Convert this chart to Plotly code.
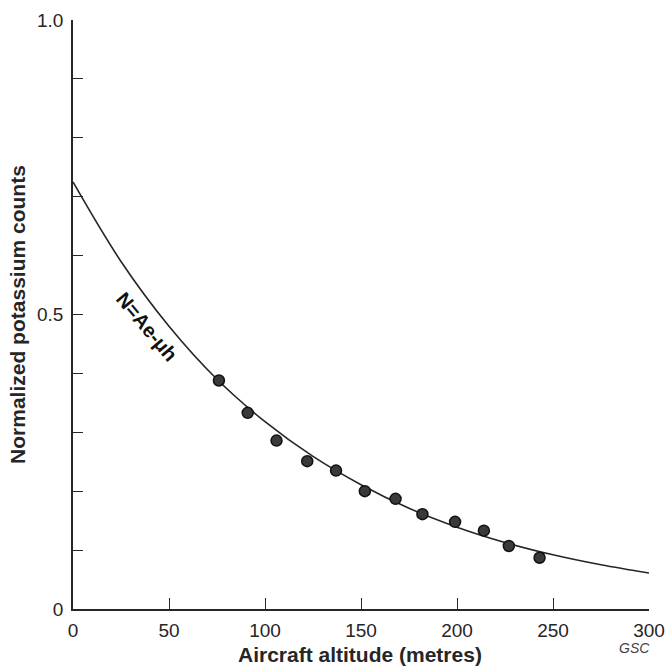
import plotly.graph_objects as go

# Measured data points (altitude in metres, normalized potassium counts)
altitude = [76, 91, 106, 122, 137, 152, 168, 182, 199, 214, 227, 243]
counts = [0.388, 0.333, 0.286, 0.251, 0.235, 0.200, 0.187, 0.161, 0.148, 0.133, 0.107, 0.087]

# Fitted curve N = A e^(-mu h)
curve_x = [0, 25, 50, 75, 100, 125, 150, 175, 200, 225, 250, 275, 300]
curve_y = [0.725, 0.590, 0.480, 0.390, 0.318, 0.259, 0.211, 0.171, 0.139, 0.113, 0.092, 0.075, 0.061]

x_ticks = [0, 50, 100, 150, 200, 250, 300]
y_ticks = [0, 0.5, 1.0]
y_tick_text = ["0", "0.5", "1.0"]

FONT = "Liberation Sans, Arial, Helvetica, sans-serif"
INK = "#262626"

fig = go.Figure()
fig.add_trace(go.Scatter(
    x=curve_x, y=curve_y, mode="lines",
    line=dict(color=INK, width=1.6, shape="spline"),
    hoverinfo="skip", showlegend=False,
))
fig.add_trace(go.Scatter(
    x=altitude, y=counts, mode="markers",
    marker=dict(size=11, color="#3a3a3a", line=dict(color="#111111", width=1.5)),
    showlegend=False, cliponaxis=False,
))

fig.update_layout(
    width=665, height=667,
    margin=dict(l=73, r=16, t=20, b=58, autoexpand=False),
    paper_bgcolor="white", plot_bgcolor="white",
    font=dict(family=FONT, color=INK, size=19),
    xaxis=dict(
        range=[0, 300], tickvals=x_ticks, ticks="inside", ticklen=11,
        tickwidth=1.3, tickcolor=INK, showline=True, linecolor=INK, linewidth=1.6,
        showgrid=False, zeroline=False, ticklabelstandoff=3, automargin=False,
        tickfont=dict(size=19, family=FONT, color=INK),
    ),
    yaxis=dict(
        range=[0, 1.0], tickvals=y_ticks, ticktext=y_tick_text, ticks="inside",
        ticklen=10, tickwidth=1.3, tickcolor=INK, showline=True, linecolor=INK,
        linewidth=1.6, showgrid=False, zeroline=False, ticklabelstandoff=4,
        automargin=False,
        tickfont=dict(size=19, family=FONT, color=INK),
        minor=dict(dtick=0.1, tick0=0, ticks="inside", ticklen=10, tickwidth=1.3,
                   tickcolor=INK, showgrid=False),
    ),
    annotations=[
        dict(text="<b>Aircraft altitude (metres)</b>", xref="paper", yref="paper",
             x=0.498, y=-0.078, xanchor="center", yanchor="middle", showarrow=False,
             font=dict(size=21, family=FONT, color=INK)),
        dict(text="<b>Normalized potassium counts</b>", xref="paper", yref="paper",
             x=-0.0955, y=0.501, xanchor="center", yanchor="middle", showarrow=False,
             textangle=-90, font=dict(size=21, family=FONT, color=INK)),
        dict(text="<i>GSC</i>", xref="paper", yref="paper",
             x=1.005, y=-0.066, xanchor="right", yanchor="middle", showarrow=False,
             font=dict(size=14, family=FONT, color="#444444")),
        dict(text="<b>N=Ae-μh</b>", xref="x", yref="y",
             x=38.5, y=0.478, xanchor="center", yanchor="middle", showarrow=False,
             textangle=50, font=dict(size=20, family=FONT, color="#111111")),
    ],
)

fig.write_html("out.html")
